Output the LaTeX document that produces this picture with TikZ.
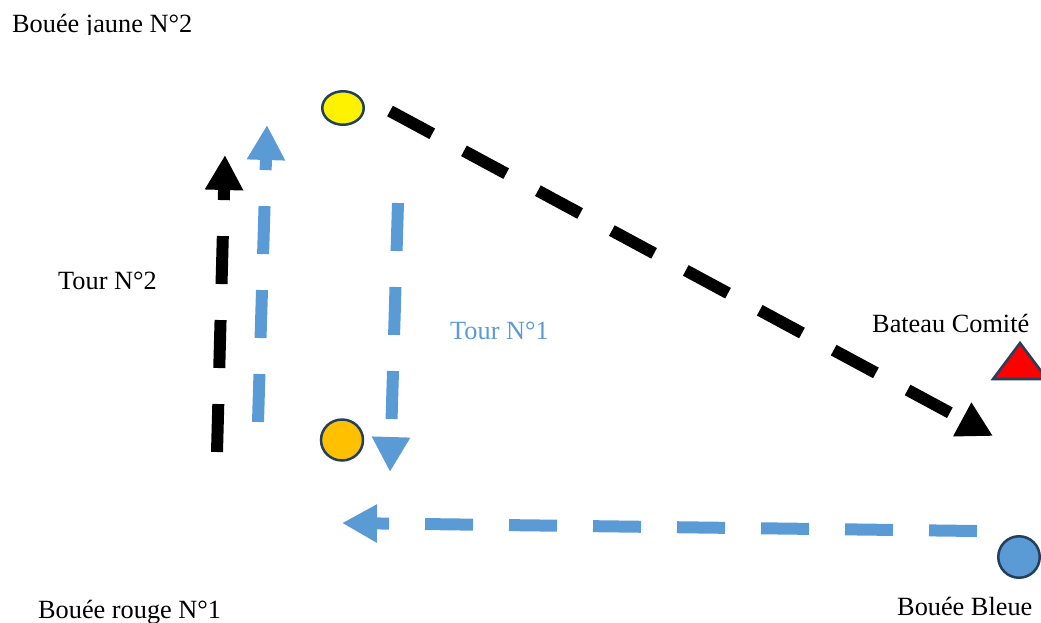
\documentclass[tikz,border=0pt]{standalone}
\usepackage{fontspec}
\setmainfont{Liberation Serif}
\usetikzlibrary{arrows.meta,shapes.geometric}
\definecolor{tblue}{HTML}{5B9BD5}
\definecolor{outl}{HTML}{223F5E}
\definecolor{gold}{HTML}{FFC000}
\begin{document}
\begin{tikzpicture}[x=1pt,y=-1pt,
  lbl/.style={anchor=base west, inner sep=0pt, font=\fontsize{26.3}{30}\selectfont},
  route/.style={line width=12pt, dash pattern=on 48pt off 36pt, -{Triangle[width=36pt,length=35pt]}},
  buoy/.style={draw=outl, line width=2.5pt, ellipse, inner sep=0pt}]
\useasboundingbox (0,0) rectangle (1041,622);
\clip (0,0) rectangle (1041,622);

% labels
\begin{scope}
  \clip (0,0) rectangle (300,34);
  \node[lbl] (tjaune) at (12,32) {Bouée jaune N°2};
\end{scope}
\node[lbl] (ttour2) at (58,289) {Tour N°2};
\node[lbl, text=tblue] (ttour1) at (450,339) {Tour N°1};
\node[lbl] (tcomite) at (872,332) {Bateau Comité};
\node[lbl] (trouge) at (38,618) {Bouée rouge N°1};
\node[lbl] (tbleue) at (897,615) {Bouée Bleue};

% buoys
\node[buoy, fill=yellow, minimum width=41.5pt, minimum height=33.5pt] (jaune) at (343,108) {};
\node[buoy, fill=gold, minimum width=42pt, minimum height=41pt] (rouge) at (342,440) {};
\node[buoy, fill=tblue, minimum width=41.5pt, minimum height=41.5pt] (bleue) at (1019,557) {};
\draw[draw=outl, line width=2.5pt, fill=red, line join=miter] (1020,343) -- (993,379) -- (1047,379) -- cycle;

% routes
\coordinate (k1s) at (217,452); \coordinate (k1e) at (225,155);
\coordinate (u1s) at (258,422); \coordinate (u1e) at (267,125);
\coordinate (d1s) at (398,203); \coordinate (d1e) at (390,472);
\coordinate (h1s) at (977,531); \coordinate (h1e) at (342,523);
\coordinate (k2s) at (390,111); \coordinate (k2e) at (993,436);

\draw[route, black] (k1s) -- (k1e);
\draw[route, tblue] (u1s) -- (u1e);
\draw[route, tblue] (d1s) -- (d1e);
\draw[route, tblue] (h1s) -- (h1e);
\draw[route, black] (k2s) -- (k2e);
\end{tikzpicture}
\end{document}
